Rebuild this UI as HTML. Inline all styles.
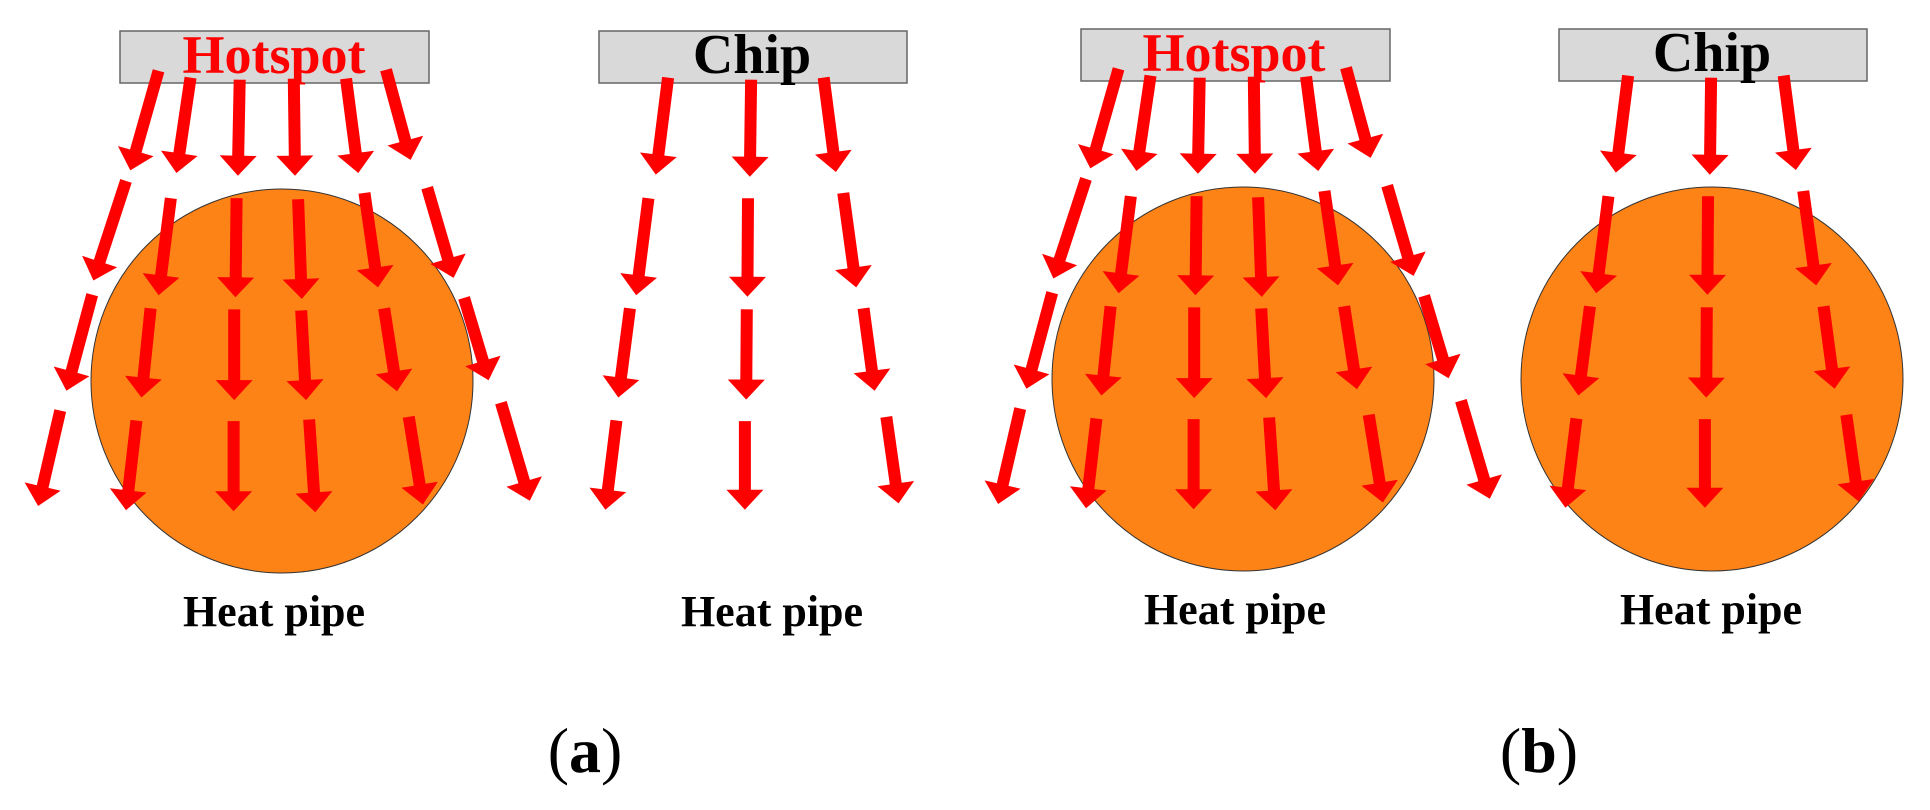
<!DOCTYPE html>
<html><head><meta charset="utf-8"><style>
html,body{margin:0;padding:0;background:#fff;}
svg{display:block;}
text{font-family:"Liberation Serif",serif;font-weight:bold;}
</style></head><body>
<svg id="s" width="1930" height="810" viewBox="0 0 1930 810" xmlns="http://www.w3.org/2000/svg">
<rect width="1930" height="810" fill="#fff"/>
<!-- panel a -->
<ellipse cx="282" cy="381" rx="191" ry="192" fill="#fd8317" stroke="#333" stroke-width="1"/>
<rect x="120" y="31" width="309" height="52" fill="#d9d9d9" stroke="#666" stroke-width="1.5"/>
<rect x="599" y="31" width="308" height="52" fill="#d9d9d9" stroke="#666" stroke-width="1.5"/>
<!-- panel b -->
<ellipse cx="1243" cy="379" rx="191" ry="192" fill="#fd8317" stroke="#333" stroke-width="1"/>
<ellipse cx="1712" cy="379" rx="191" ry="192" fill="#fd8317" stroke="#333" stroke-width="1"/>
<rect x="1081" y="29" width="309" height="52" fill="#d9d9d9" stroke="#666" stroke-width="1.5"/>
<rect x="1559" y="29" width="308" height="52" fill="#d9d9d9" stroke="#666" stroke-width="1.5"/>
<g id="arrows" fill="#ff0000"></g>
<text x="274" y="73" font-size="54" fill="#ff0000" text-anchor="middle">Hotspot</text>
<text x="752" y="73" font-size="56" fill="#000" text-anchor="middle">Chip</text>
<text x="1234" y="71" font-size="54" fill="#ff0000" text-anchor="middle">Hotspot</text>
<text x="1712" y="71" font-size="56" fill="#000" text-anchor="middle">Chip</text>
<text x="274" y="626" font-size="44" fill="#000" text-anchor="middle">Heat pipe</text>
<text x="772" y="626" font-size="44" fill="#000" text-anchor="middle">Heat pipe</text>
<text x="1235" y="624" font-size="44" fill="#000" text-anchor="middle">Heat pipe</text>
<text x="1711" y="624" font-size="44" fill="#000" text-anchor="middle">Heat pipe</text>
<text x="585" y="772" font-size="64" fill="#000" text-anchor="middle"><tspan font-weight="normal">(</tspan>a<tspan font-weight="normal">)</tspan></text>
<text x="1539" y="772" font-size="64" fill="#000" text-anchor="middle"><tspan font-weight="normal">(</tspan>b<tspan font-weight="normal">)</tspan></text>
</svg>
<script>
var A=[
[258,135,212,325],[310,148,287,330],[390,152,387,335],[478,150,480,335],[563,150,583,330],[628,133,668,305],
[205,345,152,535],[278,378,258,563],[385,378,383,567],[485,380,491,570],[593,368,615,548],[695,358,738,530],
[150,562,108,745],[245,588,230,758],[381,590,381,763],[490,592,498,763],[625,588,646,746],[755,568,795,725],
[98,783,62,965],[222,802,205,973],[380,803,380,975],[503,800,513,977],[665,795,688,962],[815,768,862,955],
[1087,148,1067,333],[1055,378,1035,563],[1025,588,1006,758],[1003,802,985,972],
[1222,152,1220,337],[1217,378,1216,566],[1215,590,1214,762],[1212,803,1212,972],
[1340,148,1360,328],[1372,368,1393,548],[1405,588,1423,745],[1442,795,1462,960]
];
var g=document.getElementById('arrows'),out='';
function arrow(sx,sy,tx,ty){
 var dx=tx-sx,dy=ty-sy,L=Math.sqrt(dx*dx+dy*dy),ux=dx/L,uy=dy/L,px=-uy,py=ux;
 var hl=20,hw=18.5,sw=6;
 var bx=tx-ux*hl,by=ty-uy*hl;
 var p=[[sx+px*sw,sy+py*sw],[bx+px*sw,by+py*sw],[bx+px*hw,by+py*hw],[tx,ty],[bx-px*hw,by-py*hw],[bx-px*sw,by-py*sw],[sx-px*sw,sy-py*sw]];
 return '<polygon points="'+p.map(function(q){return q[0].toFixed(1)+','+q[1].toFixed(1)}).join(' ')+'"/>';
}
[[0,0],[960,-2]].forEach(function(o){
 A.forEach(function(a){
  out+=arrow(a[0]/1.627+o[0],a[1]/1.907+o[1],a[2]/1.627+o[0],a[3]/1.907+o[1]);
 });
});
g.innerHTML=out;
</script>
</body></html>
